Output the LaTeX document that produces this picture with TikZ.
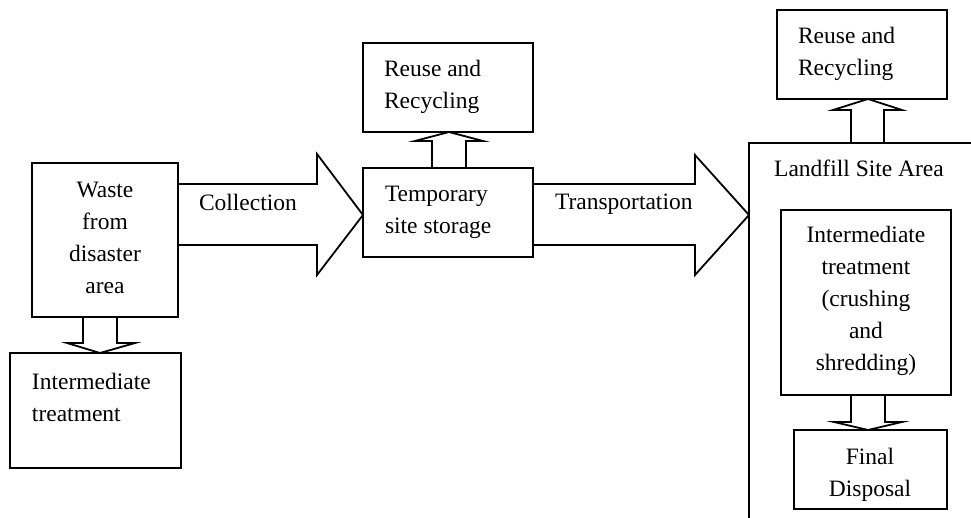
\documentclass[tikz,border=0pt]{standalone}
\usepackage{fontspec}
\setmainfont{Liberation Serif}
\usetikzlibrary{fit,calc}
\begin{document}
\begin{tikzpicture}[x=0.5pt,y=-0.5pt,
  every node/.style={font=\fontsize{11.75pt}{16pt}\selectfont},
  box/.style={draw, line width=0.9pt, inner sep=0pt, outer sep=0pt, fit=#1},
  txt/.style={inner sep=0pt, outer sep=0pt},
  blockarrow/.style={draw, line width=0.9pt, line join=miter}]
\useasboundingbox (0,0) rectangle (971,518);
\clip (0,0) rectangle (971,518);

% corner points of the boxes
\coordinate (wa1) at (32,163);   \coordinate (wa2) at (178,317);
\coordinate (ia1) at (10,353);   \coordinate (ia2) at (181,468);
\coordinate (tp1) at (363,168);  \coordinate (tp2) at (533,257);
\coordinate (ra1) at (363,43);   \coordinate (ra2) at (533,132);
\coordinate (lf1) at (749,143);  \coordinate (lf2) at (1000,560);
\coordinate (rb1) at (777,10);   \coordinate (rb2) at (947,99);
\coordinate (ib1) at (781,210);  \coordinate (ib2) at (951,395);
\coordinate (fd1) at (794,430);  \coordinate (fd2) at (947,509);

% boxes
\node[box={(wa1)(wa2)}] (waste) {};
\node[box={(ia1)(ia2)}] (inter1) {};
\node[box={(tp1)(tp2)}] (temp) {};
\node[box={(ra1)(ra2)}] (reuse1) {};
\node[box={(lf1)(lf2)}] (landfill) {};
\node[box={(rb1)(rb2)}] (reuse2) {};
\node[box={(ib1)(ib2)}] (inter2) {};
\node[box={(fd1)(fd2)}] (final) {};

% labels
\node[txt, align=center] (wastet) at (105,238) {Waste\\from\\disaster\\area};
\node[txt, align=left, anchor=west] (inter1t) at (32,397) {Intermediate\\treatment};
\node[txt, anchor=base west] (collt) at (199,211) {Collection};
\node[txt, align=left, anchor=west] (tempt) at (385,212) {Temporary\\site storage};
\node[txt, align=left, anchor=west] (reuse1t) at (384,87) {Reuse and\\Recycling};
\node[txt, anchor=base west] (transt) at (555,210) {Transportation};
\node[txt, align=left, anchor=west] (reuse2t) at (798,54) {Reuse and\\Recycling};
\node[txt, anchor=base] (landt) at (859,177) {Landfill Site Area};
\node[txt, align=center] (inter2t) at (866,301) {Intermediate\\treatment\\(crushing\\and\\shredding)};
\node[txt, align=center] (finalt) at (870,475) {Final\\Disposal};

% collection
\draw[blockarrow] (waste.east |- 0,184) -- (317,184) -- (317,154)
  -- (temp.west |- 0,215) -- (317,275) -- (317,245) -- (waste.east |- 0,245);
% transportation
\draw[blockarrow] (temp.east |- 0,184) -- (695,184) -- (695,155)
  -- (landfill.west |- 0,215) -- (695,275) -- (695,245) -- (temp.east |- 0,245);
% waste -> intermediate treatment
\draw[blockarrow] (83,0 |- waste.south) -- (83,343) -- (67,343)
  -- (100,0 |- inter1.north) -- (135,343) -- (117,343) -- (117,0 |- waste.south);
% temporary storage -> reuse
\draw[blockarrow] (432,0 |- temp.north) -- (432,141) -- (415,141)
  -- (449,0 |- reuse1.south) -- (483,141) -- (466,141) -- (466,0 |- temp.north);
% landfill -> reuse
\draw[blockarrow] (851,0 |- landfill.north) -- (851,110) -- (833,110)
  -- (868,0 |- reuse2.south) -- (902,110) -- (884,110) -- (884,0 |- landfill.north);
% intermediate treatment -> final disposal
\draw[blockarrow] (851,0 |- inter2.south) -- (851,422) -- (834,422)
  -- (868,0 |- final.north) -- (902,422) -- (885,422) -- (885,0 |- inter2.south);
\end{tikzpicture}
\end{document}
